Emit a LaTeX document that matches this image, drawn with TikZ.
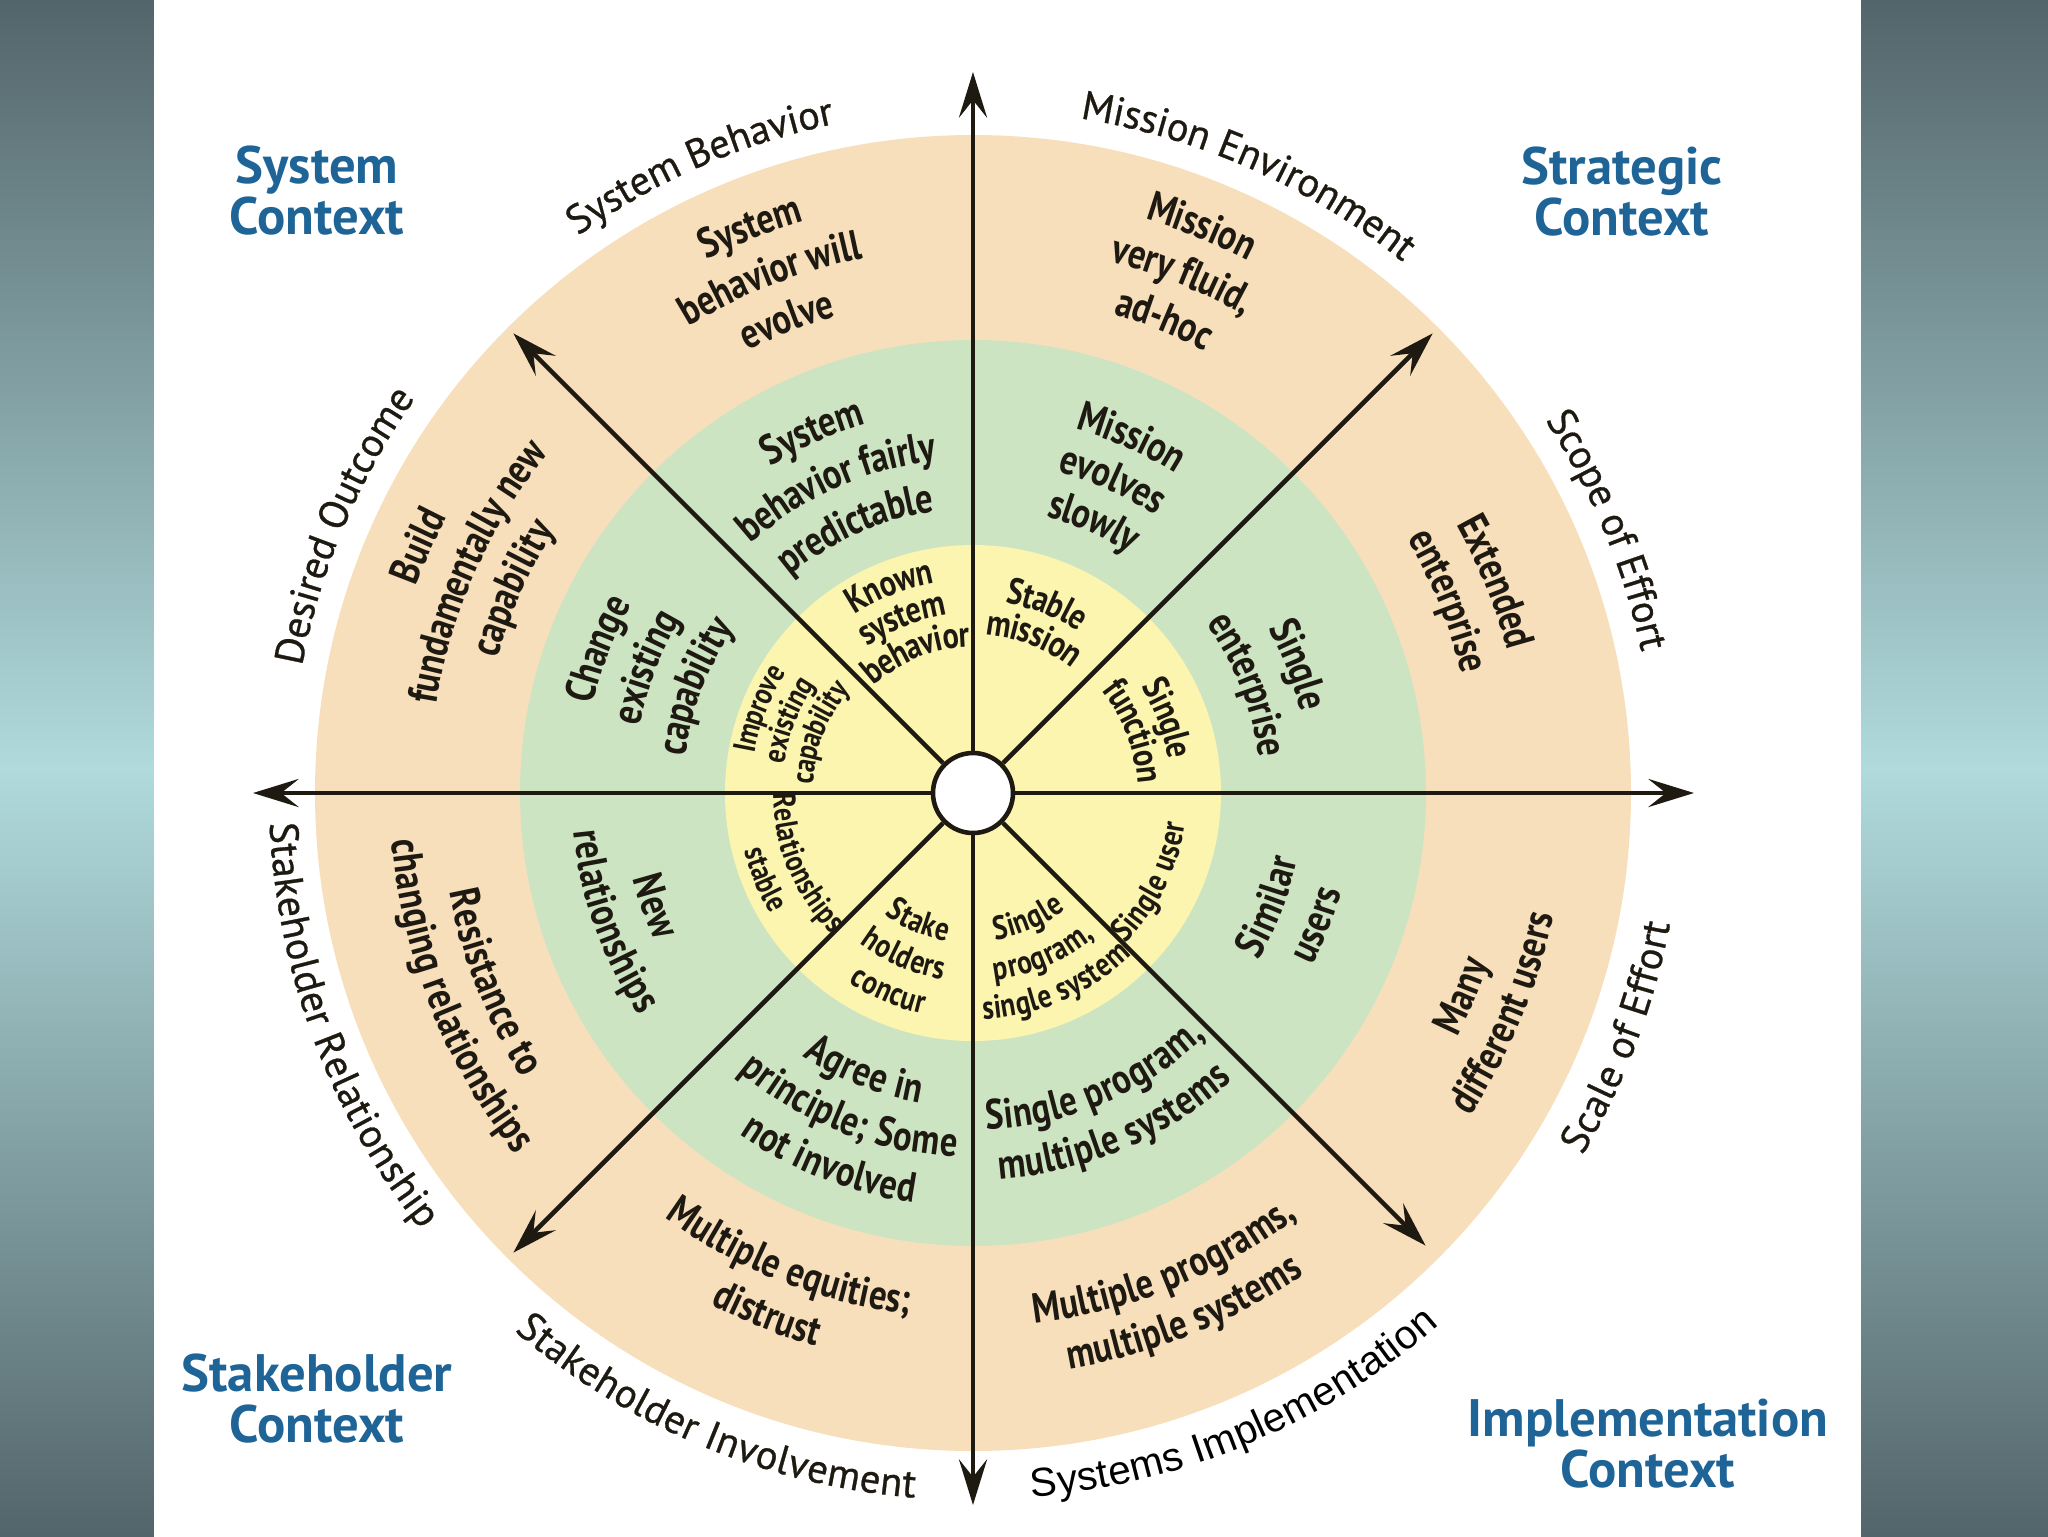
\documentclass[tikz,border=0pt]{standalone}
\usepackage{fontspec}
\setmainfont{PT Sans}
\newfontfamily\wfb[FakeStretch=0.82]{PT Sans Bold}
\newfontfamily\olf[FakeBold=0.7]{PT Sans}
\newfontfamily\arf{Liberation Sans}
\newfontfamily\ttl{PT Sans Bold}
\usetikzlibrary{decorations.text,arrows.meta}
\definecolor{tanc}{HTML}{F8DFBC}
\definecolor{greenc}{HTML}{CDE4C3}
\definecolor{yelc}{HTML}{FBF5B0}
\definecolor{ink}{HTML}{1E1A12}
\definecolor{bluec}{HTML}{1F6497}
\definecolor{sdark}{HTML}{53656A}
\definecolor{slight}{HTML}{B0DADC}
\newcommand\FT{\color{ink}\wfb\fontsize{12}{12}\selectfont}
\newcommand\FY{\color{ink}\wfb\fontsize{10.5}{10.5}\selectfont}
\newcommand\FL{\color{ink}\wfb\fontsize{9.5}{9.5}\selectfont}
\newcommand\FS{\color{ink}\wfb\fontsize{9}{9}\selectfont}
\newcommand\FO{\color{ink}\olf\fontsize{11.5}{11.5}\selectfont}
\newcommand\FA{\color{black}\arf\fontsize{11.5}{11.5}\selectfont}
% clockwise text (upper half, letter tops outward)
\newcommand\cwline[5]{\path[decorate,decoration={text along path,text align=center,raise=#3,text={|#4|#5}}] ({#1+60}:#2) arc[start angle={#1+60},end angle={#1-60},radius=#2];}
% counter-clockwise text (lower half, letter tops inward)
\newcommand\ccwline[5]{\path[decorate,decoration={text along path,text align=center,raise=#3,text={|#4|#5}}] ({#1-60}:#2) arc[start angle={#1-60},end angle={#1+60},radius=#2];}
\tikzset{
  arr/.style={draw=ink,line width=1.3pt,-{Stealth[length=13pt,width=8pt,inset=5pt]}},
  hub/.style={circle,draw=ink,line width=1.3pt,fill=white,minimum size=8mm,inner sep=0pt},
  ctitle/.style={text=bluec,font=\ttl\fontsize{15}{14.5}\selectfont,align=center,inner sep=0pt}
}
\begin{document}
\begin{tikzpicture}[x=0.1mm,y=0.1mm]
\useasboundingbox (-973,-743) rectangle (1075,793);
\fill[white] (-973,-743) rectangle (1075,793);
\shade[top color=sdark,bottom color=sdark,middle color=slight] (-973,-743) rectangle (-819,793);
\shade[top color=sdark,bottom color=sdark,middle color=slight] (888,-743) rectangle (1075,793);
% rings
\fill[tanc] (0,0) circle[radius=658];
\fill[greenc] (0,0) circle[radius=453];
\fill[yelc] (0,0) circle[radius=248];
% ---- tan ring, upper
\cwline{111.5}{608}{-3.4pt}{\FT}{System}
\cwline{111.5}{558}{-3.4pt}{\FT}{behavior will}
\cwline{111.5}{508}{-3.4pt}{\FT}{evolve}
\cwline{68}{611}{-3.4pt}{\FT}{Mission}
\cwline{68}{561}{-3.4pt}{\FT}{very fluid,}
\cwline{68}{511}{-3.4pt}{\FT}{ad-hoc}
\cwline{22}{565}{-3.4pt}{\FT}{Extended}
\cwline{22}{515}{-3.4pt}{\FT}{enterprise}
\cwline{156}{606}{-3.4pt}{\FT}{Build}
\cwline{156}{556}{-3.4pt}{\FT}{fundamentally new}
\cwline{156}{506}{-3.4pt}{\FT}{capability}
% ---- green ring, upper
\cwline{114}{396}{-3.4pt}{\FT}{System}
\cwline{114}{346}{-3.4pt}{\FT}{behavior fairly}
\cwline{114}{296}{-3.4pt}{\FT}{predictable}
\cwline{66}{390}{-3.4pt}{\FT}{Mission}
\cwline{66}{344}{-3.4pt}{\FT}{evolves}
\cwline{66}{298}{-3.4pt}{\FT}{slowly}
\cwline{21.5}{350}{-3.4pt}{\FT}{Single}
\cwline{21.5}{300}{-3.4pt}{\FT}{enterprise}
\cwline{159}{402}{-3.4pt}{\FT}{Change}
\cwline{159}{352}{-3.4pt}{\FT}{existing}
\cwline{159}{302}{-3.4pt}{\FT}{capability}
% ---- yellow ring, upper
\cwline{112}{224}{-2.9pt}{\FY}{Known}
\cwline{112}{190}{-2.9pt}{\FY}{system}
\cwline{112}{156}{-2.9pt}{\FY}{behavior}
\cwline{68.5}{203}{-2.9pt}{\FY}{Stable}
\cwline{68.5}{169}{-2.9pt}{\FY}{mission}
\cwline{21}{209}{-2.9pt}{\FY}{Single}
\cwline{21}{175}{-2.9pt}{\FY}{function}
\cwline{158.5}{231}{-2.5pt}{\FS}{Improve}
\cwline{158.5}{200}{-2.5pt}{\FS}{existing}
\cwline{158.5}{169}{-2.5pt}{\FS}{capability}
% ---- tan ring, lower
\ccwline{201.5}{521}{-3.4pt}{\FT}{Resistance to}
\ccwline{201.5}{571}{-3.4pt}{\FT}{changing relationships}
\ccwline{248.5}{513}{-3.4pt}{\FT}{Multiple equities;}
\ccwline{248.5}{563}{-3.4pt}{\FT}{distrust}
\ccwline{292}{522}{-3.4pt}{\FT}{Multiple programs,}
\ccwline{292}{572}{-3.4pt}{\FT}{multiple systems}
\ccwline{337.5}{531}{-3.4pt}{\FT}{Many}
\ccwline{337.5}{581}{-3.4pt}{\FT}{different users}
% ---- green ring, lower
\ccwline{199.6}{339}{-3.4pt}{\FT}{New}
\ccwline{199.6}{389}{-3.4pt}{\FT}{relationships}
\ccwline{248.7}{302}{-3.4pt}{\FT}{Agree in}
\ccwline{248.7}{352}{-3.4pt}{\FT}{principle; Some}
\ccwline{248.7}{402}{-3.4pt}{\FT}{not involved}
\ccwline{293}{325}{-3.4pt}{\FT}{Single program,}
\ccwline{293}{375}{-3.4pt}{\FT}{multiple systems}
\ccwline{339}{319}{-3.4pt}{\FT}{Similar}
\ccwline{339}{369}{-3.4pt}{\FT}{users}
% ---- yellow ring, lower
\ccwline{202.5}{191}{-2.5pt}{\FS}{Relationships}
\ccwline{202.5}{227}{-2.5pt}{\FS}{stable}
\ccwline{247}{141}{-2.7pt}{\FL}{Stake}
\ccwline{247}{179}{-2.7pt}{\FL}{holders}
\ccwline{247}{217}{-2.7pt}{\FL}{concur}
\ccwline{293.5}{139}{-2.7pt}{\FL}{Single}
\ccwline{293.5}{179}{-2.7pt}{\FL}{program,}
\ccwline{293.5}{217}{-2.7pt}{\FL}{single system}
\ccwline{333.5}{205}{-2.7pt}{\FL}{Single user}
% ---- outer labels
\cwline{113.5}{695}{-3.4pt}{\FO}{System Behavior}
\cwline{66}{695}{-3.4pt}{\FO}{Mission Environment}
\cwline{157}{695}{-3.4pt}{\FO}{Desired Outcome}
\cwline{22.5}{695}{-3.4pt}{\FO}{Scope of Effort}
\ccwline{200.4}{692}{-3.4pt}{\FO}{Stakeholder Relationship}
\ccwline{247.4}{695}{-3.4pt}{\FO}{Stakeholder Involvement}
\ccwline{293}{695}{-3.4pt}{\FA}{Systems Implementation}
\ccwline{339.3}{697}{-3.4pt}{\FO}{Scale of Effort}
% ---- axes
\node[hub] (c) at (0,0) {};
\coordinate (tN) at (90:721);
\coordinate (tS) at (270:712);
\coordinate (tW) at (180:720);
\coordinate (tE) at (0:721);
\coordinate (tNE) at (45:650);
\coordinate (tNW) at (135:650);
\coordinate (tSW) at (225:650);
\coordinate (tSE) at (315:640);
\foreach \t in {tN,tS,tW,tE,tNE,tNW,tSW,tSE} \draw[arr] (c) -- (\t);
% ---- titles
\node[ctitle] (sysctx) at (-656,602) {System\\Context};
\node[ctitle] (strctx) at (649,601) {Strategic\\Context};
\node[ctitle] (stkctx) at (-656,-606) {Stakeholder\\Context};
\node[ctitle] (impctx) at (675,-651) {Implementation\\Context};
\end{tikzpicture}
\end{document}
